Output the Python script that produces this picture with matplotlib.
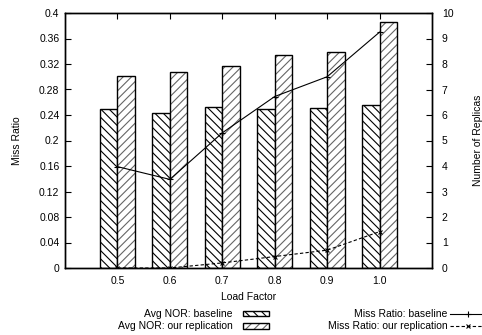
import matplotlib
matplotlib.use("Agg")
import matplotlib.pyplot as plt
import numpy as np

plt.rcParams['font.family'] = ['Liberation Sans', 'DejaVu Sans']
plt.rcParams['hatch.linewidth'] = 0.8

load_factors = ["0.5", "0.6", "0.7", "0.8", "0.9", "1.0"]
nor_baseline = [6.24, 6.08, 6.33, 6.22, 6.29, 6.38]
nor_replication = [7.53, 7.70, 7.92, 8.35, 8.47, 9.64]
miss_baseline = [0.159, 0.139, 0.212, 0.269, 0.300, 0.370]
miss_replication = [0.0, 0.0, 0.008, 0.018, 0.028, 0.057]

fs = 7.5
fig = plt.figure(figsize=(4.82, 3.35), dpi=100)
ax = fig.add_axes([65/482, 1-268/335, (432-65)/482, (268-13)/335])
ax2 = ax.twinx()

x = np.arange(1, len(load_factors) + 1)
w = 0.335
b1 = ax2.bar(x - w/2, nor_baseline, w, facecolor='white', edgecolor='black',
             hatch='\\\\\\\\', linewidth=1.0)
b2h = ax2.bar(x + w/2, nor_replication, w, facecolor='white', edgecolor='#666666',
              hatch='////', linewidth=0)
b2o = ax2.bar(x + w/2, nor_replication, w, fill=False, edgecolor='black',
              linewidth=1.0)

ax2.set_zorder(1)
ax.set_zorder(2)
ax.patch.set_visible(False)

l1, = ax.plot(x, miss_baseline, color='black', lw=0.8, marker='+', ms=4,
              mew=0.8)
l2, = ax.plot(x, miss_replication, color='black', lw=0.8, ls=(0, (3, 2)),
              marker='x', ms=3.5, mew=0.8)

ax.set_xlim(0, 7)
ax.set_ylim(0, 0.4)
ax2.set_ylim(0, 10)
ax.set_xticks(x)
ax.set_xticklabels(load_factors)
ax.set_yticks(np.arange(0, 0.41, 0.04))
ax.set_yticklabels(['0'] + ['%g' % v for v in np.arange(0.04, 0.41, 0.04).round(2)])
ax2.set_yticks(np.arange(0, 11, 1))

ax.tick_params(axis='both', direction='in', labelsize=fs, length=4, width=0.8,
               top=True, pad=6)
ax.tick_params(axis='y', pad=4)
ax2.tick_params(axis='y', direction='in', labelsize=fs, length=4, width=0.8, pad=7)
for a in (ax, ax2):
    for s in a.spines.values():
        s.set_linewidth(1.0)

ax.set_xlabel('Load Factor', fontsize=fs, labelpad=4)
ax.set_ylabel('Miss Ratio', fontsize=fs, labelpad=12)
ax2.set_ylabel('Number of Replicas', fontsize=fs, labelpad=14)

fig.legend(handles=[b1.patches[0], (b2h.patches[0], b2o.patches[0])],
           labels=['Avg NOR: baseline', 'Avg NOR: our replication'],
           loc='upper right', bbox_to_anchor=(274/482, 1-304/335),
           frameon=False, fontsize=fs, markerfirst=False, handlelength=2.5,
           handleheight=0.5, labelspacing=0.2, borderpad=0, handletextpad=1.0)
fig.legend(handles=[l1, l2],
           labels=['Miss Ratio: baseline', 'Miss Ratio: our replication'],
           loc='upper right', bbox_to_anchor=(490/482, 1-304/335),
           frameon=False, fontsize=fs, markerfirst=False, handlelength=3.3,
           labelspacing=0.2, borderpad=0, handletextpad=0.3)

fig.savefig('out.png', dpi=100)
